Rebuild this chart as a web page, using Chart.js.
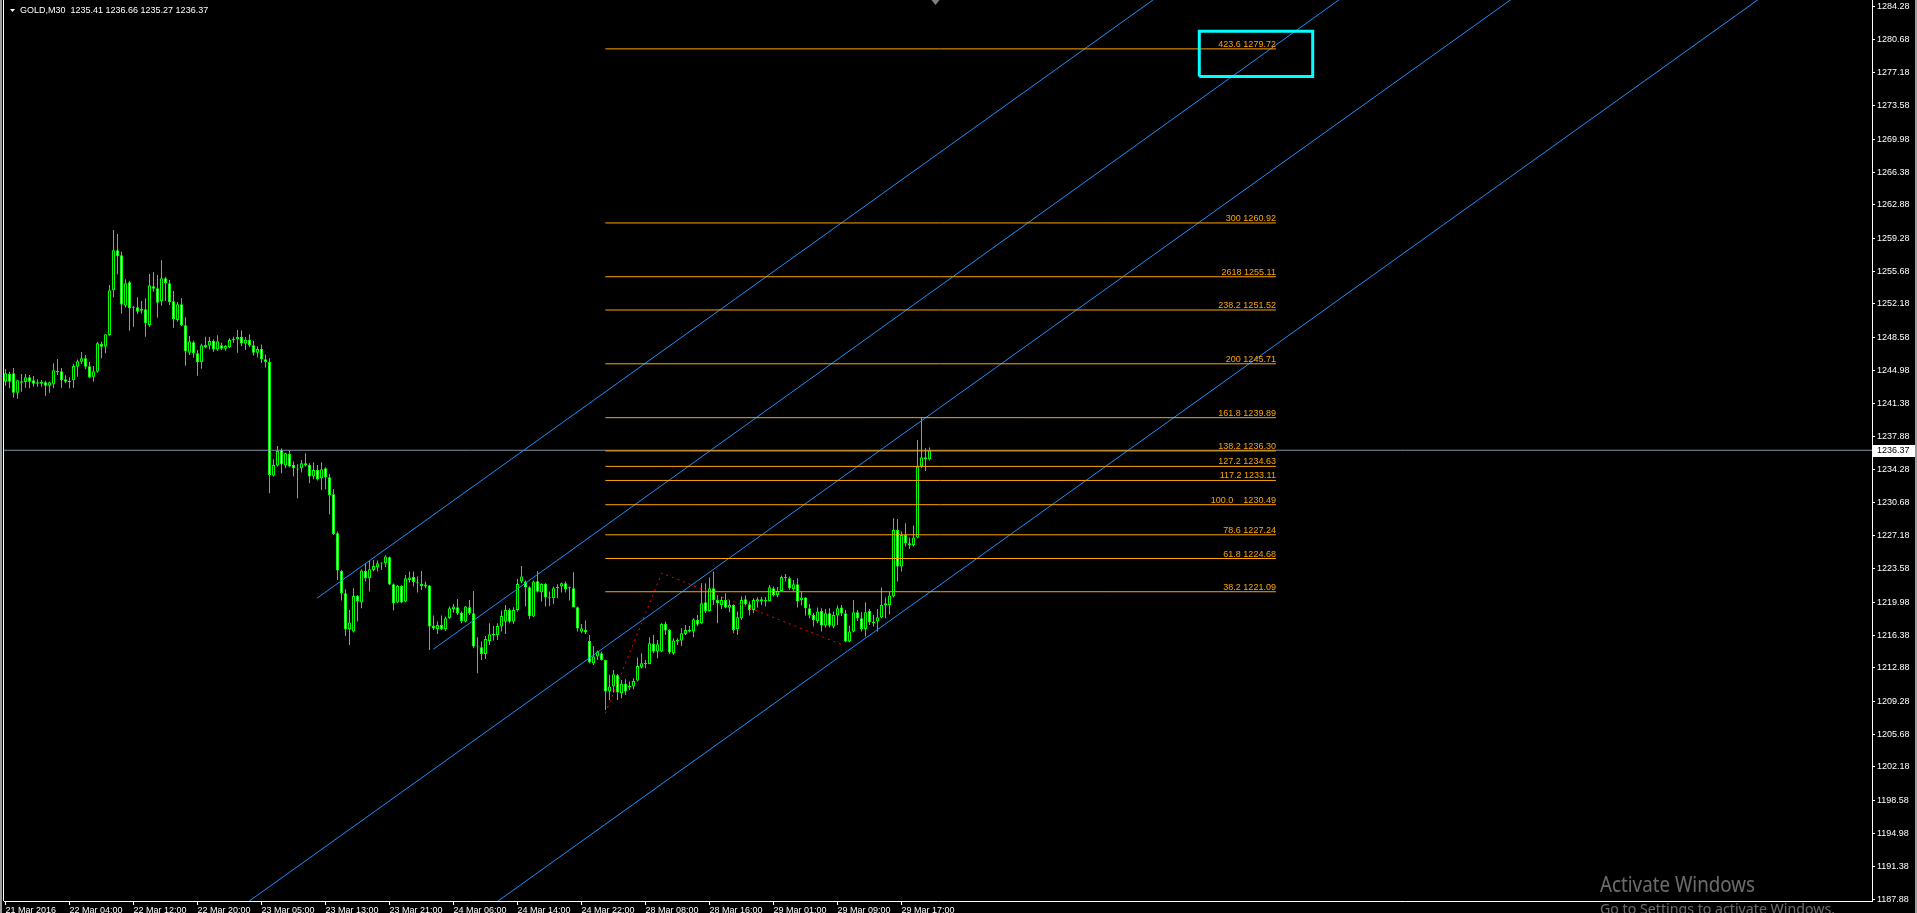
<!DOCTYPE html>
<html><head><meta charset="utf-8">
<script src="https://cdn.jsdelivr.net/npm/chart.js@4.4.1/dist/chart.umd.min.js"></script>
<style>html,body{margin:0;padding:0;background:#000;overflow:hidden}canvas{display:block}</style>
</head><body>
<canvas id="c" width="1917" height="913" style="width:1917px;height:913px"></canvas>
<script>
// ---------- data ----------
const symbolTitle = 'GOLD,M30';
const barOpen = [
1243.78,1244.61,1244.68,1242.59,1243.82,1243.74,1244.25,1243.92,1243.56,1243.74,
1243.71,1243.35,1243.49,1244.93,1244.90,1244.03,1243.82,1243.92,1245.40,1245.94,
1246.30,1245.44,1244.32,1244.86,1247.85,1247.56,1248.82,1253.64,1257.96,1257.42,
1251.99,1254.51,1251.77,1251.81,1251.45,1251.59,1249.90,1254.08,1253.86,1252.46,
1254.94,1254.40,1252.46,1250.44,1252.13,1249.86,1246.91,1248.03,1246.84,1245.87,
1247.74,1247.67,1248.21,1247.24,1247.70,1247.34,1247.49,1248.28,1248.35,1248.60,
1247.90,1248.30,1247.70,1246.90,1247.30,1246.20,1245.90,1233.64,1234.72,1236.41,
1234.72,1235.98,1234.79,1234.36,1234.43,1234.97,1234.79,1233.53,1234.25,1233.35,
1234.43,1233.46,1231.62,1227.41,1223.34,1220.93,1217.04,1216.79,1220.64,1219.92,
1223.34,1222.55,1223.45,1223.74,1224.17,1224.17,1224.82,1221.90,1219.92,1221.72,
1220.03,1222.37,1222.69,1222.12,1221.94,1221.65,1221.76,1217.40,1217.08,1217.51,
1217.04,1218.23,1219.24,1219.42,1218.81,1217.87,1219.42,1218.77,1215.17,1215.10,
1214.38,1215.78,1216.50,1216.43,1217.33,1217.87,1219.13,1217.87,1219.13,1222.19,
1222.19,1221.58,1218.41,1222.23,1221.04,1221.94,1220.50,1220.39,1221.47,1221.65,
1222.01,1221.47,1221.47,1219.42,1216.79,1216.97,1215.78,1213.37,1214.09,1214.45,
1213.73,1210.31,1210.85,1212.07,1210.13,1211.14,1210.78,1210.85,1211.50,1212.94,
1213.37,1213.30,1215.46,1214.63,1214.63,1217.62,1216.97,1214.45,1215.71,1215.82,
1216.54,1216.97,1216.79,1218.05,1217.69,1219.96,1219.02,1221.47,1220.21,1219.67,
1220.21,1219.38,1219.67,1217.08,1218.23,1220.28,1219.74,1219.13,1220.03,1220.28,
1220.03,1220.10,1221.47,1220.75,1221.18,1222.69,1222.55,1221.40,1221.90,1220.21,
1220.46,1219.31,1218.59,1217.94,1219.02,1217.44,1218.77,1217.33,1218.52,1219.38,
1218.77,1215.71,1216.79,1218.88,1218.23,1217.08,1219.02,1217.69,1217.87,1218.34,
1219.67,1219.67,1220.57,1227.77,1223.81,1227.23,1226.33,1226.15,1226.94,1234.61,
1235.62,1235.41];
const barHigh = [
1245.15,1244.86,1245.26,1243.92,1244.61,1244.61,1244.50,1244.39,1244.03,1243.96,
1243.89,1243.78,1245.76,1246.23,1245.26,1244.46,1244.25,1245.69,1246.16,1246.98,
1246.66,1245.94,1245.47,1248.06,1248.10,1248.89,1254.22,1260.16,1259.73,1257.82,
1254.83,1254.65,1251.95,1252.89,1252.49,1252.78,1255.41,1255.62,1255.30,1256.88,
1255.12,1254.76,1253.57,1252.38,1252.78,1250.73,1248.71,1248.21,1247.20,1247.88,
1248.64,1248.60,1248.35,1248.78,1247.99,1247.74,1248.46,1248.64,1249.36,1249.30,
1248.60,1248.90,1248.20,1247.60,1247.80,1246.70,1246.30,1235.40,1236.84,1236.59,
1236.12,1236.34,1235.15,1234.86,1235.33,1236.05,1234.97,1235.08,1234.79,1235.08,
1234.54,1233.82,1232.16,1227.59,1223.45,1221.36,1219.13,1221.47,1220.75,1223.52,
1224.17,1224.42,1224.53,1224.46,1224.24,1225.03,1224.89,1221.97,1221.83,1221.79,
1222.91,1223.27,1223.27,1222.73,1223.34,1222.19,1221.83,1218.52,1217.87,1218.52,
1218.41,1219.49,1219.78,1220.32,1218.95,1219.56,1220.21,1221.18,1216.18,1215.71,
1216.32,1217.69,1217.40,1217.69,1219.06,1219.67,1219.31,1219.42,1222.48,1223.88,
1222.30,1221.72,1222.30,1223.31,1222.01,1222.01,1221.11,1221.65,1221.90,1222.08,
1222.19,1221.65,1223.20,1219.49,1217.62,1217.98,1216.43,1215.24,1214.74,1214.63,
1213.73,1212.11,1212.65,1212.22,1211.57,1211.64,1211.39,1211.75,1213.98,1214.45,
1213.73,1216.18,1216.43,1215.89,1217.69,1217.87,1217.04,1216.07,1216.07,1217.15,
1217.51,1217.40,1218.23,1218.59,1222.01,1222.01,1222.62,1223.27,1220.75,1220.57,
1220.93,1220.21,1219.74,1218.95,1220.57,1220.68,1220.03,1220.39,1220.50,1220.53,
1220.53,1221.83,1221.65,1221.61,1222.84,1223.02,1222.73,1222.37,1222.55,1221.11,
1220.53,1219.74,1218.81,1219.38,1219.31,1219.24,1219.31,1218.95,1219.60,1219.67,
1219.13,1217.44,1220.21,1219.13,1218.88,1219.96,1219.24,1218.59,1219.24,1221.54,
1220.46,1221.11,1229.03,1228.96,1227.59,1228.49,1226.94,1228.24,1237.49,1239.90,
1236.59,1236.66];
const barLow = [
1243.35,1243.06,1242.05,1241.94,1242.70,1243.13,1243.06,1243.24,1243.24,1243.24,
1242.27,1242.59,1243.06,1244.50,1243.13,1243.60,1243.06,1243.13,1244.32,1245.69,
1245.11,1244.14,1243.78,1244.75,1246.30,1246.84,1248.75,1252.89,1255.37,1251.12,
1251.77,1249.29,1249.72,1251.09,1251.12,1248.64,1249.68,1253.50,1250.69,1251.99,
1252.49,1252.06,1249.61,1250.26,1249.79,1245.51,1246.66,1246.37,1244.43,1245.18,
1247.38,1247.24,1247.02,1247.09,1247.20,1247.13,1247.42,1247.99,1246.91,1247.60,
1247.20,1247.50,1246.60,1246.40,1245.80,1245.30,1231.73,1233.53,1234.61,1233.89,
1234.43,1234.54,1233.53,1231.19,1233.96,1234.61,1232.81,1233.24,1233.10,1232.09,
1232.16,1229.46,1227.23,1222.37,1220.14,1216.32,1215.35,1216.68,1217.87,1219.31,
1222.19,1221.11,1223.27,1223.27,1223.45,1223.74,1221.83,1219.06,1219.85,1219.85,
1219.96,1222.08,1221.65,1221.00,1221.29,1221.47,1214.81,1216.97,1216.54,1216.97,
1216.86,1218.13,1218.84,1218.59,1217.69,1217.76,1218.59,1214.99,1212.29,1213.73,
1213.84,1215.35,1215.82,1215.89,1216.79,1216.54,1217.69,1217.62,1218.95,1222.01,
1219.49,1218.16,1218.34,1221.00,1220.03,1219.49,1219.56,1219.78,1220.39,1221.00,
1221.00,1220.14,1219.42,1216.79,1216.61,1216.54,1213.37,1213.19,1213.73,1213.66,
1208.33,1209.41,1210.20,1209.41,1209.59,1209.95,1210.49,1210.56,1211.39,1212.79,
1212.83,1213.26,1214.45,1213.91,1214.59,1216.43,1214.38,1214.27,1215.35,1215.24,
1216.43,1216.68,1216.18,1217.40,1217.62,1218.77,1218.95,1219.67,1217.69,1219.24,
1219.31,1218.88,1216.61,1216.43,1218.05,1219.60,1218.52,1218.77,1219.38,1219.67,
1219.49,1220.03,1220.57,1220.46,1221.11,1222.19,1221.29,1221.18,1219.38,1219.60,
1218.52,1218.23,1217.33,1217.69,1216.79,1217.22,1217.22,1217.15,1217.51,1218.48,
1215.64,1215.64,1216.72,1217.94,1216.79,1216.25,1217.51,1217.33,1216.79,1218.23,
1218.23,1218.67,1220.46,1222.19,1223.27,1225.97,1225.72,1225.97,1226.87,1234.43,
1234.14,1235.27];
const barClose = [
1244.68,1243.78,1242.59,1243.92,1243.67,1244.25,1243.78,1243.56,1243.71,1243.56,
1243.35,1243.71,1245.00,1244.82,1243.92,1243.78,1243.74,1245.47,1245.98,1246.30,
1245.40,1244.25,1244.90,1247.92,1247.56,1248.89,1253.64,1257.96,1257.32,1252.10,
1254.40,1251.70,1251.88,1251.34,1251.63,1250.08,1254.18,1253.82,1252.31,1254.94,
1254.40,1252.35,1250.51,1252.13,1249.86,1247.06,1248.14,1246.84,1245.87,1247.70,
1247.52,1248.17,1247.24,1248.14,1247.34,1247.63,1248.28,1248.42,1248.60,1247.90,
1248.30,1247.70,1246.90,1247.30,1246.20,1245.90,1233.71,1234.79,1236.30,1234.86,
1236.05,1234.61,1234.43,1234.29,1234.97,1234.75,1233.53,1234.25,1233.24,1234.32,
1233.46,1231.55,1227.34,1223.38,1220.93,1217.04,1217.76,1220.64,1220.03,1223.38,
1222.55,1223.52,1223.88,1224.17,1224.13,1224.89,1221.87,1219.85,1221.72,1219.92,
1222.55,1222.62,1222.15,1222.01,1221.72,1221.87,1217.33,1217.11,1217.51,1217.08,
1218.23,1219.31,1219.49,1218.77,1217.94,1219.49,1218.77,1215.17,1215.24,1214.38,
1216.00,1216.50,1216.43,1217.40,1218.48,1219.13,1217.87,1219.13,1221.94,1222.73,
1221.58,1218.48,1222.19,1221.11,1221.94,1220.50,1220.39,1221.47,1221.61,1222.01,
1221.36,1221.58,1219.42,1217.11,1217.15,1216.68,1213.44,1214.09,1214.63,1213.73,
1210.31,1210.85,1212.18,1210.20,1211.14,1210.31,1210.92,1211.46,1213.08,1213.37,
1213.30,1215.53,1214.63,1215.42,1217.62,1216.90,1214.52,1215.82,1215.89,1216.61,
1216.97,1216.79,1218.12,1217.55,1219.85,1219.02,1221.47,1220.21,1219.85,1220.21,
1219.38,1219.67,1216.97,1218.34,1220.21,1219.74,1219.13,1220.21,1220.28,1220.03,
1220.21,1221.58,1220.75,1221.18,1222.69,1222.55,1221.47,1221.90,1220.03,1220.46,
1219.31,1218.59,1218.05,1218.95,1217.44,1218.77,1217.44,1218.59,1219.31,1218.77,
1215.71,1216.79,1218.88,1218.23,1217.08,1218.88,1217.80,1217.87,1218.34,1219.67,
1219.85,1220.68,1227.77,1223.81,1227.23,1226.33,1226.15,1226.94,1234.61,1235.62,
1235.44,1236.37];

const xTickBars = [0,16,32,48,64,80,96,112,128,144,160,176,192,208,224];
const xTickLabels = ['21 Mar 2016','22 Mar 04:00','22 Mar 12:00','22 Mar 20:00','23 Mar 05:00',
  '23 Mar 13:00','23 Mar 21:00','24 Mar 06:00','24 Mar 14:00','24 Mar 22:00','28 Mar 08:00',
  '28 Mar 16:00','29 Mar 01:00','29 Mar 09:00','29 Mar 17:00'];
const yTickValues = [1284.28,1280.68,1277.18,1273.58,1269.98,1266.38,1262.88,1259.28,1255.68,
  1252.18,1248.58,1244.98,1241.38,1237.88,1234.28,1230.68,1227.18,1223.58,1219.98,1216.38,
  1212.88,1209.28,1205.68,1202.18,1198.58,1194.98,1191.38,1187.88];

const bidPrice = 1236.37;
const fibRatioLabels = ['423.6','300','2618','238.2','200','161.8','138.2','127.2','117.2','100.0   ','78.6','61.8','38.2'];
const fibPrices = [1279.72,1260.92,1255.11,1251.52,1245.71,1239.89,1236.30,1234.63,1233.11,1230.49,1227.24,1224.68,1221.09];
const fibStartBar = 149.95, fibEndBar = 317.6;
const zigzagBars = [149.95, 164.05, 209.3];
const zigzagPrices = [1207.95, 1223.10, 1215.35];
// channel lines: two anchor points each [bar, price]; rays extend to the right
const channelA = [[77.875, 1220.39], [286.85, 1285.00]];
const channelB = [[106.95, 1214.88], [333.3, 1285.00]];
const channelC = [[124.3, 1207.24], [298.2, 1260.92]];
const channelD = [[186.375, 1207.23], [295.0, 1240.80]];
const boxBars = [298.45, 326.8];
const boxPrices = [1276.74, 1281.63];

// ---------- styles ----------
const BULL_BEAR_EDGE = '#00FF00';
const FIB_COLOR = '#FFA500';
const CHANNEL_COLOR = '#1E90FF';
const BID_COLOR = '#8393A8';
const FONT = '"Liberation Sans", Arial, sans-serif';

Chart.defaults.font.family = FONT;
Chart.defaults.font.size = 9;

function ray(anchor, fromBar, toBar) {
  const [[b1, p1], [b2, p2]] = anchor;
  const k = (p2 - p1) / (b2 - b1);
  return [{x: fromBar, y: p1 + k * (fromBar - b1)}, {x: toBar, y: p1 + k * (toBar - b1)}];
}
function lineDs(data, color, width, dash, order) {
  return {type: 'line', data, borderColor: color, borderWidth: width, borderDash: dash || [],
    pointRadius: 0, pointHoverRadius: 0, fill: false, tension: 0, order, borderCapStyle: 'butt'};
}

const idx = barClose.map((_, i) => i);
const wickData = idx.map(i => ({x: i, y: [barLow[i], barHigh[i]]}));
const bodyData = idx.map(i => ({x: i, y: [barOpen[i], barClose[i]]}));

const datasets = [
  {type: 'bar', data: wickData, backgroundColor: BULL_BEAR_EDGE, borderWidth: 0, barThickness: 1,
   grouped: false, order: 20, inflateAmount: 0, minBarLength: 1},
  {type: 'bar', data: bodyData, borderColor: BULL_BEAR_EDGE, borderWidth: 1, borderSkipped: false,
   backgroundColor: ctx => (barClose[ctx.dataIndex] >= barOpen[ctx.dataIndex] ? '#000000' : '#FFFFFF'),
   barThickness: 3, grouped: false, order: 19, inflateAmount: 0, minBarLength: 1},
  lineDs([{x: -5, y: bidPrice}, {x: 500, y: bidPrice}], BID_COLOR, 1, [], 5),
  lineDs(ray(channelA, channelA[0][0], 480), CHANNEL_COLOR, 1, [], 4),
  lineDs(ray(channelB, channelB[0][0], 480), CHANNEL_COLOR, 1, [], 4),
  lineDs(ray(channelC, -20, 480), CHANNEL_COLOR, 1, [], 4),
  lineDs(ray(channelD, -20, 480), CHANNEL_COLOR, 1, [], 4),
  ...fibPrices.map(p => lineDs([{x: fibStartBar, y: p}, {x: fibEndBar, y: p}], FIB_COLOR, 1, [], 3)),
  lineDs(zigzagBars.map((b, k) => ({x: b, y: zigzagPrices[k]})), '#FF0000', 1, [2, 4], 2),
  lineDs([{x: boxBars[0], y: boxPrices[0]}, {x: boxBars[1], y: boxPrices[0]}, {x: boxBars[1], y: boxPrices[1]},
          {x: boxBars[0], y: boxPrices[1]}, {x: boxBars[0], y: boxPrices[0]}], '#00FFFF', 3, [], 1)
];

function zeroPad(s) { s.paddingTop = 0; s.paddingBottom = 0; s.paddingLeft = 0; s.paddingRight = 0; }

const mtPlugin = {
  id: 'mt',
  beforeDraw(chart) {
    const {ctx, width, height} = chart;
    ctx.save(); ctx.fillStyle = '#000'; ctx.fillRect(0, 0, width, height); ctx.restore();
  },
  afterDatasetsDraw(chart) {
    const {ctx, chartArea} = chart;
    const xs = chart.scales.x, ys = chart.scales.y;
    ctx.save();
    ctx.beginPath();
    ctx.rect(chartArea.left, chartArea.top, chartArea.right - chartArea.left, chartArea.bottom - chartArea.top);
    ctx.clip();
    ctx.font = '9px ' + FONT;
    ctx.fillStyle = FIB_COLOR;
    ctx.textAlign = 'right';
    ctx.textBaseline = 'alphabetic';
    const xe = xs.getPixelForValue(fibEndBar);
    fibPrices.forEach((p, k) => {
      ctx.fillText(fibRatioLabels[k] + ' ' + p.toFixed(2), xe, ys.getPixelForValue(p) - 2);
    });
    ctx.restore();
  },
  afterDraw(chart) {
    const {ctx, chartArea, width, height} = chart;
    const xs = chart.scales.x, ys = chart.scales.y;
    ctx.save();
    // window frame
    ctx.fillStyle = '#9c9c9c';
    ctx.fillRect(0, 0, 2, height);
    ctx.fillRect(width - 2, 0, 2, height);
    ctx.fillStyle = '#ffffff';
    ctx.fillRect(3, 0, 1, chartArea.bottom);
    // header
    ctx.fillStyle = '#ffffff';
    ctx.beginPath(); ctx.moveTo(10, 9); ctx.lineTo(15, 9); ctx.lineTo(12.5, 12); ctx.closePath(); ctx.fill();
    ctx.font = '9px ' + FONT;
    ctx.textAlign = 'left'; ctx.textBaseline = 'alphabetic';
    const last = barClose.length - 1;
    ctx.fillText(symbolTitle + '  ' + [barOpen[last], barHigh[last], barLow[last], barClose[last]].map(v => v.toFixed(2)).join(' '), 20, 13);
    // chart shift marker
    const sx = Math.round(xs.getPixelForValue(232.4)) + 0.5;
    ctx.fillStyle = '#808080';
    ctx.beginPath(); ctx.moveTo(sx - 4, 0); ctx.lineTo(sx + 4, 0); ctx.lineTo(sx, 5); ctx.closePath(); ctx.fill();
    // bid price label
    const by = Math.round(ys.getPixelForValue(bidPrice));
    ctx.fillStyle = '#ffffff';
    ctx.fillRect(chartArea.right + 1, by - 5, 42, 12);
    ctx.fillStyle = '#000000';
    ctx.textBaseline = 'middle';
    ctx.fillText(bidPrice.toFixed(2), chartArea.right + 5, by + 1);
    // watermark
    ctx.fillStyle = 'rgba(255,255,255,0.42)';
    ctx.textBaseline = 'alphabetic';
    const drawFit = (txt, font, x, y, w) => {
      ctx.font = font; const m = ctx.measureText(txt).width;
      ctx.save(); ctx.translate(x, y); ctx.scale(w / m, 1); ctx.fillText(txt, 0, 0); ctx.restore();
    };
    drawFit('Activate Windows', '22px "Noto Sans", "Open Sans", sans-serif', 1600, 892, 155);
    drawFit('Go to Settings to activate Windows.', '15px "Noto Sans", "Open Sans", sans-serif', 1600, 914, 235);
    ctx.restore();
  }
};

new Chart(document.getElementById('c'), {
  type: 'bar',
  data: {datasets},
  options: {
    responsive: false, animation: false, events: [],
    devicePixelRatio: 1,
    layout: {padding: {left: 4, top: 0, right: 0, bottom: 0}},
    plugins: {legend: {display: false}, tooltip: {enabled: false}},
    scales: {
      x: {
        type: 'linear', min: -0.375, max: 466.625, offset: false,
        afterBuildTicks: s => { s.ticks = xTickBars.map(v => ({value: v})); },
        afterFit: s => { s.height = 12; zeroPad(s); },
        ticks: {color: '#ffffff', align: 'start', padding: 0, maxRotation: 0, minRotation: 0, autoSkip: false,
          font: {size: 9}, callback: (v, i) => xTickLabels[i]},
        grid: {drawOnChartArea: false, color: '#ffffff', tickLength: 4, offset: false},
        border: {color: '#ffffff', width: 1}
      },
      y: {
        type: 'linear', position: 'right', min: 1187.69, max: 1285.00,
        afterBuildTicks: s => { s.ticks = yTickValues.map(v => ({value: v})); },
        afterFit: s => { s.width = 45; zeroPad(s); },
        ticks: {color: '#ffffff', padding: 2, autoSkip: false, font: {size: 9},
          callback: (v, i) => yTickValues[i].toFixed(2)},
        grid: {drawOnChartArea: false, color: '#ffffff', tickLength: 3},
        border: {color: '#ffffff', width: 1}
      }
    }
  },
  plugins: [mtPlugin]
});
</script>
</body></html>
